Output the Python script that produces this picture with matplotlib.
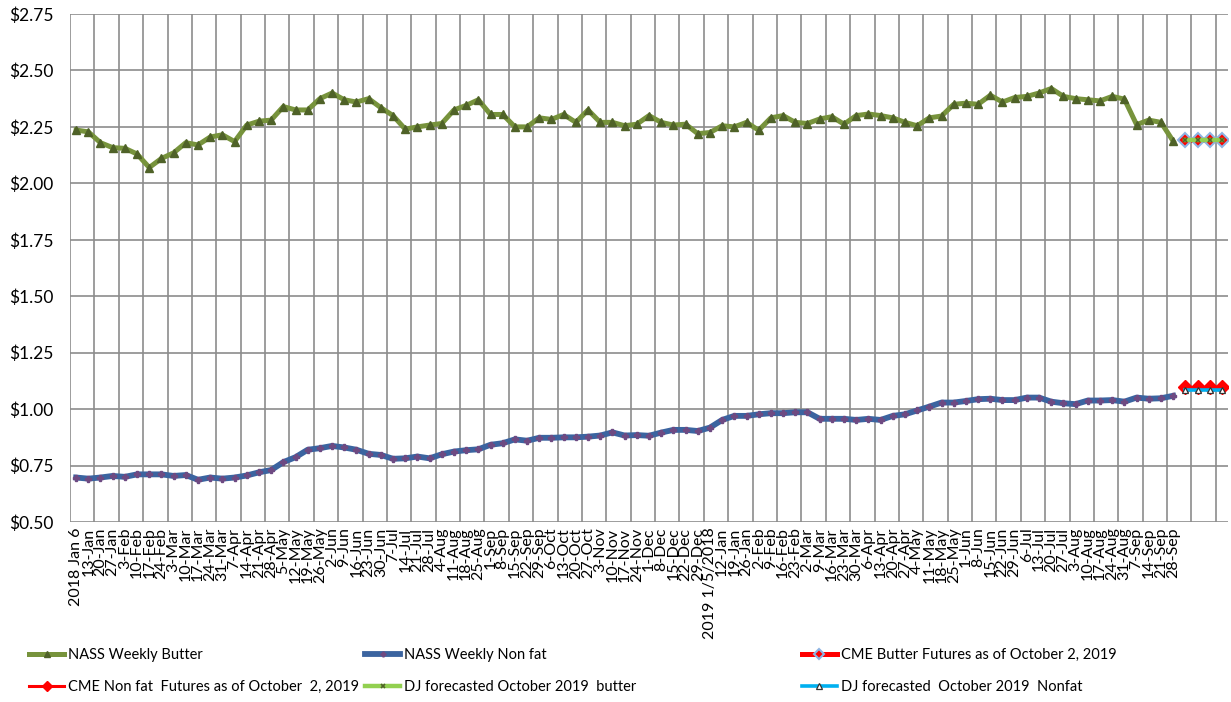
import numpy as np
import matplotlib
matplotlib.use("Agg")
import matplotlib.pyplot as plt

plt.rcParams['font.family'] = ['Lato', 'DejaVu Sans']

# weekly categories, 2018 Jan 6 .. 2019 Sep 28, then 4 forecast slots
weeks = ["2018 Jan 6", "13-Jan", "20-Jan", "27-Jan", "3-Feb", "10-Feb", "17-Feb", "24-Feb",
         "3-Mar", "10-Mar", "17-Mar", "24-Mar", "31-Mar", "7-Apr", "14-Apr", "21-Apr", "28-Apr",
         "5-May", "12-May", "19-May", "26-May", "2-Jun", "9-Jun", "16-Jun", "23-Jun", "30-Jun",
         "7-Jul", "14-Jul", "21-Jul", "28-Jul", "4-Aug", "11-Aug", "18-Aug", "25-Aug",
         "1-Sep", "8-Sep", "15-Sep", "22-Sep", "29-Sep", "6-Oct", "13-Oct", "20-Oct", "27-Oct",
         "3-Nov", "10-Nov", "17-Nov", "24-Nov", "1-Dec", "8-Dec", "15-Dec", "22-Dec", "29-Dec",
         "2019 1/5/2018", "12-Jan", "19-Jan", "26-Jan", "2-Feb", "9-Feb", "16-Feb", "23-Feb",
         "2-Mar", "9-Mar", "16-Mar", "23-Mar", "30-Mar", "6-Apr", "13-Apr", "20-Apr", "27-Apr",
         "4-May", "11-May", "18-May", "25-May", "1-Jun", "8-Jun", "15-Jun", "22-Jun", "29-Jun",
         "6-Jul", "13-Jul", "20-Jul", "27-Jul", "3-Aug", "10-Aug", "17-Aug", "24-Aug", "31-Aug",
         "7-Sep", "14-Sep", "21-Sep", "28-Sep"]
forecast_slots = ["", "", "", ""]

butter = [2.236, 2.228, 2.18, 2.158, 2.155, 2.13, 2.07, 2.11, 2.135, 2.18,
          2.17, 2.205, 2.215, 2.185, 2.258, 2.275, 2.28, 2.34, 2.325, 2.325,
          2.375, 2.40, 2.37, 2.36, 2.375, 2.335, 2.30, 2.24, 2.25, 2.258,
          2.265, 2.325, 2.345, 2.37, 2.305, 2.305, 2.25, 2.25, 2.29, 2.283,
          2.305, 2.27, 2.325, 2.27, 2.27, 2.255, 2.262, 2.30, 2.27, 2.258,
          2.262, 2.22, 2.225, 2.255, 2.25, 2.27, 2.235, 2.29, 2.30, 2.27,
          2.265, 2.285, 2.295, 2.262, 2.30, 2.307, 2.30, 2.29, 2.27, 2.255,
          2.29, 2.298, 2.35, 2.355, 2.35, 2.39, 2.36, 2.38, 2.385, 2.40,
          2.42, 2.385, 2.375, 2.37, 2.365, 2.385, 2.373, 2.26, 2.28, 2.27,
          2.187]

nonfat = [0.697, 0.692, 0.697, 0.704, 0.70, 0.711, 0.711, 0.711, 0.704, 0.708,
          0.687, 0.697, 0.692, 0.697, 0.706, 0.72, 0.73, 0.765, 0.787, 0.82,
          0.827, 0.837, 0.83, 0.82, 0.802, 0.797, 0.78, 0.782, 0.79, 0.782,
          0.80, 0.812, 0.818, 0.822, 0.842, 0.849, 0.866, 0.86, 0.873, 0.873,
          0.875, 0.875, 0.878, 0.883, 0.897, 0.883, 0.885, 0.882, 0.896, 0.908,
          0.908, 0.903, 0.918, 0.952, 0.97, 0.97, 0.977, 0.982, 0.982, 0.986,
          0.986, 0.957, 0.957, 0.957, 0.952, 0.957, 0.952, 0.97, 0.977, 0.994,
          1.011, 1.029, 1.029, 1.036, 1.044, 1.046, 1.04, 1.04, 1.051, 1.051,
          1.033, 1.026, 1.022, 1.038, 1.038, 1.04, 1.033, 1.051, 1.046, 1.048,
          1.059]

cme_butter = [2.19, 2.19, 2.19, 2.19]
cme_nonfat = [1.097, 1.097, 1.097, 1.097]
dj_butter = [2.19, 2.19, 2.19, 2.19]
dj_nonfat = [1.085, 1.085, 1.085, 1.085]

labels = weeks + forecast_slots
x_hist = np.arange(len(weeks))
x_fc = np.arange(len(weeks), len(labels))

fig = plt.figure(figsize=(12.31, 7.02), dpi=100)
ax = fig.add_axes([70/1231, 1 - 522/702, (1228 - 70)/1231, (522 - 14)/702])

l1, = ax.plot(x_hist, butter, color="#77933C", lw=3.6, marker="^", ms=6,
              mfc="#4F6228", mec="#4F6228", label="NASS Weekly Butter", zorder=3)
l2, = ax.plot(x_hist, nonfat, color="#3B64A0", lw=4.2, marker="P", ms=4.5,
              mfc="#6E4A82", mec="#6E4A82", label="NASS Weekly Non fat", zorder=3)
l3, = ax.plot(x_fc, cme_butter, color="#FF0000", lw=3.6, marker="D", ms=7,
              mfc="#FF0000", mec="#8EB4E3", mew=1.5,
              label="CME Butter Futures as of October 2, 2019", zorder=3)
l4, = ax.plot(x_fc, cme_nonfat, color="#FF0000", lw=2.2, marker="D", ms=7,
              mfc="#FF0000", mec="#FF0000",
              label="CME Non fat  Futures as of October  2, 2019", zorder=3)
l5, = ax.plot(x_fc, dj_butter, color="#92D050", lw=3.2, marker="x", ms=3,
              mfc="#4F6228", mec="#4F6228", mew=1.2,
              label="DJ forecasted October 2019  butter", zorder=4)
l6, = ax.plot(x_fc, dj_nonfat, color="#00B0F0", lw=2.6, marker="^", ms=5,
              mfc="white", mec="#333333", mew=0.9,
              label="DJ forecasted  October 2019  Nonfat", zorder=4)

ax.set_xlim(-0.5, len(labels) - 0.5)
ax.set_ylim(0.5, 2.75)
yt = np.arange(0.5, 2.76, 0.25)
ax.set_yticks(yt)
ax.set_yticklabels(["$%.2f" % v for v in yt], fontsize=12.5)
ax.set_xticks(np.arange(len(labels)))
ax.set_xticklabels(labels, rotation=90, fontsize=11.5, va="top")
ax.tick_params(axis="y", length=0, pad=12)
ax.tick_params(axis="x", length=0, pad=4)

grid_kw = dict(color="#8C8C8C", lw=1.2, zorder=1)
for v in yt:
    ax.axhline(v, **grid_kw)
for gx in np.arange(-0.5, len(labels) - 1, 2):
    ax.axvline(gx, **grid_kw)
for s in ax.spines.values():
    s.set_visible(False)

# legend: three columns, two rows
cols = [(29, [l1, l4]), (365, [l2, l5]), (802, [l3, l6])]
for xpix, hs in cols:
    fig.legend(handles=hs, loc="upper left", bbox_to_anchor=(xpix/1231, 1 - 648/702),
               frameon=False, fontsize=10.5, handlelength=2.4, handletextpad=0.25,
               labelspacing=1.25, borderpad=0, borderaxespad=0, markerscale=0.75)

fig.savefig("out.png", dpi=100)
print("Done")
